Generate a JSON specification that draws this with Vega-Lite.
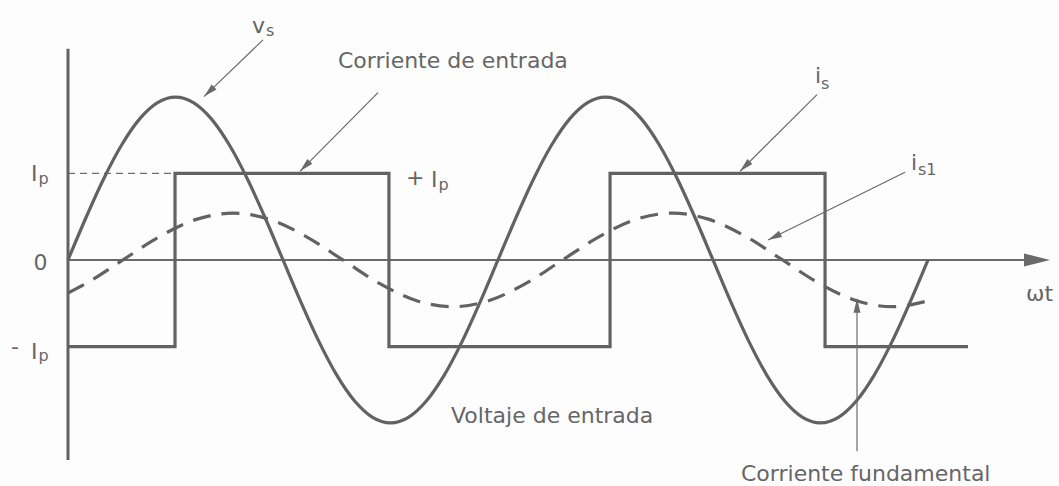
{
  "$schema": "https://vega.github.io/schema/vega-lite/v6.json",
  "width": 1059,
  "height": 486,
  "padding": 0,
  "autosize": {"type": "fit", "contains": "padding"},
  "background": "#fdfdfd",
  "view": {"stroke": null},
  "config": {"text": {"font": "DejaVu Sans", "color": "#666666"}},
  "datasets": {
    "vs": [
      {"x": 0, "y": 0}, {"x": 15, "y": 0.487}, {"x": 30, "y": 0.94}, {"x": 45, "y": 1.329}, {"x": 60, "y": 1.628}, {"x": 75, "y": 1.816}, {"x": 90, "y": 1.88}, {"x": 105, "y": 1.816}, {"x": 120, "y": 1.628}, {"x": 135, "y": 1.329}, {"x": 150, "y": 0.94}, {"x": 165, "y": 0.487}, {"x": 180, "y": 0},
      {"x": 195, "y": -0.487}, {"x": 210, "y": -0.94}, {"x": 225, "y": -1.329}, {"x": 240, "y": -1.628}, {"x": 255, "y": -1.816}, {"x": 270, "y": -1.88}, {"x": 285, "y": -1.816}, {"x": 300, "y": -1.628}, {"x": 315, "y": -1.329}, {"x": 330, "y": -0.94}, {"x": 345, "y": -0.487}, {"x": 360, "y": 0},
      {"x": 375, "y": 0.487}, {"x": 390, "y": 0.94}, {"x": 405, "y": 1.329}, {"x": 420, "y": 1.628}, {"x": 435, "y": 1.816}, {"x": 450, "y": 1.88}, {"x": 465, "y": 1.816}, {"x": 480, "y": 1.628}, {"x": 495, "y": 1.329}, {"x": 510, "y": 0.94}, {"x": 525, "y": 0.487}, {"x": 540, "y": 0},
      {"x": 555, "y": -0.487}, {"x": 570, "y": -0.94}, {"x": 585, "y": -1.329}, {"x": 600, "y": -1.628}, {"x": 615, "y": -1.816}, {"x": 630, "y": -1.88}, {"x": 645, "y": -1.816}, {"x": 660, "y": -1.628}, {"x": 675, "y": -1.329}, {"x": 690, "y": -0.94}, {"x": 705, "y": -0.487}, {"x": 720, "y": 0}
    ],
    "is": [
      {"k": 1, "x": 0, "y": -1}, {"k": 2, "x": 89.6, "y": -1}, {"k": 3, "x": 89.6, "y": 1}, {"k": 4, "x": 268.7, "y": 1}, {"k": 5, "x": 268.7, "y": -1},
      {"k": 6, "x": 453.8, "y": -1}, {"k": 7, "x": 453.8, "y": 1}, {"k": 8, "x": 633.8, "y": 1}, {"k": 9, "x": 633.8, "y": -1}, {"k": 10, "x": 753.5, "y": -1}
    ],
    "is1": [
      {"x": 0, "y": -0.382}, {"x": 15.3, "y": -0.27}, {"x": 46, "y": 0}, {"x": 76.7, "y": 0.27}, {"x": 107.4, "y": 0.468}, {"x": 138, "y": 0.54}, {"x": 168.7, "y": 0.468}, {"x": 199.4, "y": 0.27}, {"x": 230.1, "y": 0},
      {"x": 260.7, "y": -0.27}, {"x": 291.4, "y": -0.468}, {"x": 322.1, "y": -0.54}, {"x": 352.8, "y": -0.468}, {"x": 383.4, "y": -0.27}, {"x": 414.1, "y": 0},
      {"x": 444.8, "y": 0.27}, {"x": 475.5, "y": 0.468}, {"x": 506.1, "y": 0.54}, {"x": 536.8, "y": 0.468}, {"x": 567.5, "y": 0.27}, {"x": 598.2, "y": 0},
      {"x": 628.8, "y": -0.27}, {"x": 659.5, "y": -0.468}, {"x": 690.2, "y": -0.54}, {"x": 720.9, "y": -0.468}
    ],
    "arrows": [
      {"name": "vs", "x": 163.26, "y": 2.54, "x2": 113.86, "y2": 1.885, "hx": 118.08, "hy": 1.941, "dir": 136},
      {"name": "entrada", "x": 259.53, "y": 1.931, "x2": 194.23, "y2": 1.023, "hx": 198.35, "hy": 1.08, "dir": 134.6},
      {"name": "is", "x": 627.07, "y": 1.908, "x2": 562.6, "y2": 1.023, "hx": 566.75, "hy": 1.08, "dir": 135},
      {"name": "is1", "x": 700.74, "y": 1.0115, "x2": 586.05, "y2": 0.23, "hx": 591.3, "hy": 0.2656, "dir": 153.6},
      {"name": "fundamental", "x": 660.56, "y": -2.207, "x2": 660.56, "y2": -0.448, "hx": 660.56, "hy": -0.529, "dir": 270}
    ],
    "bigtext": [
      {"t": "v", "x": 154.05, "y": 2.621},
      {"t": "i", "x": 625.4, "y": 2.046},
      {"t": "i", "x": 705.77, "y": 1.0345},
      {"t": "I", "x": -30.98, "y": 0.908},
      {"t": "0", "x": -28.88, "y": -0.115},
      {"t": "-", "x": -47.72, "y": -1.08},
      {"t": "I", "x": -30.98, "y": -1.138},
      {"t": "+", "x": 282.98, "y": 0.862},
      {"t": "I", "x": 303.91, "y": 0.839},
      {"t": "ωt", "x": 802.05, "y": -0.471},
      {"t": "Voltaje de entrada", "x": 320.65, "y": -1.885},
      {"t": "Corriente de entrada", "x": 226.05, "y": 2.218},
      {"t": "Corriente fundamental", "x": 563.44, "y": -2.552}
    ],
    "subtext": [
      {"t": "s", "x": 165.77, "y": 2.586},
      {"t": "s", "x": 630.42, "y": 1.977},
      {"t": "s1", "x": 711.63, "y": 0.977},
      {"t": "p", "x": -24.7, "y": 0.874},
      {"t": "p", "x": -24.7, "y": -1.172},
      {"t": "p", "x": 310.19, "y": 0.805}
    ],
    "guides": [
      {"g": "ip", "x": 0, "y": 1, "x2": 89.6, "y2": 1}
    ],
    "xaxis": [
      {"x": 0, "y": 0, "x2": 811.26, "y2": 0}
    ],
    "yaxis": [
      {"x": 0, "y": 2.437, "x2": 0, "y2": -2.31}
    ],
    "xhead": [
      {"x": 811.26, "y": 0}
    ]
  },
  "encoding": {
    "x": {"field": "x", "type": "quantitative", "scale": {"domain": [-56.93, 829.67], "nice": false, "zero": false}, "axis": null},
    "y": {"field": "y", "type": "quantitative", "scale": {"domain": [-2.586, 3.0], "nice": false, "zero": false}, "axis": null}
  },
  "layer": [
    {
      "data": {"name": "guides"},
      "mark": {"type": "rule", "color": "#707070", "strokeWidth": 1.2, "strokeDash": [7, 5]},
      "encoding": {"x2": {"field": "x2"}, "y2": {"field": "y2"}}
    },
    {
      "data": {"name": "xaxis"},
      "mark": {"type": "rule", "color": "#6a6a6a", "strokeWidth": 2},
      "encoding": {"x2": {"field": "x2"}, "y2": {"field": "y2"}}
    },
    {
      "data": {"name": "yaxis"},
      "mark": {"type": "rule", "color": "#626262", "strokeWidth": 3},
      "encoding": {"x2": {"field": "x2"}, "y2": {"field": "y2"}}
    },
    {
      "data": {"name": "xhead"},
      "mark": {"type": "point", "shape": "M1,0L-1,-0.5L-1,0.5Z", "filled": true, "color": "#6a6a6a", "opacity": 1, "size": 676, "angle": 0}
    },
    {
      "data": {"name": "is"},
      "mark": {"type": "line", "color": "#626262", "strokeWidth": 3.2, "strokeJoin": "miter"},
      "encoding": {"order": {"field": "k", "type": "quantitative"}}
    },
    {
      "data": {"name": "vs"},
      "mark": {"type": "line", "color": "#626262", "strokeWidth": 3.2, "interpolate": "monotone"}
    },
    {
      "data": {"name": "is1"},
      "mark": {"type": "line", "color": "#626262", "strokeWidth": 3.2, "strokeDash": [18, 11], "interpolate": "monotone"}
    },
    {
      "data": {"name": "arrows"},
      "mark": {"type": "rule", "color": "#6a6a6a", "strokeWidth": 1.2},
      "encoding": {"x2": {"field": "x2"}, "y2": {"field": "y2"}}
    },
    {
      "data": {"name": "arrows"},
      "mark": {"type": "point", "shape": "M1,0L-1,-0.5L-1,0.5Z", "filled": true, "color": "#6a6a6a", "opacity": 1, "size": 196},
      "encoding": {
        "x": {"field": "hx", "type": "quantitative"},
        "y": {"field": "hy", "type": "quantitative"},
        "angle": {"field": "dir", "type": "quantitative", "scale": null}
      }
    },
    {
      "data": {"name": "bigtext"},
      "mark": {"type": "text", "fontSize": 22, "align": "left", "baseline": "alphabetic"},
      "encoding": {"text": {"field": "t"}}
    },
    {
      "data": {"name": "subtext"},
      "mark": {"type": "text", "fontSize": 16, "align": "left", "baseline": "alphabetic"},
      "encoding": {"text": {"field": "t"}}
    }
  ]
}
